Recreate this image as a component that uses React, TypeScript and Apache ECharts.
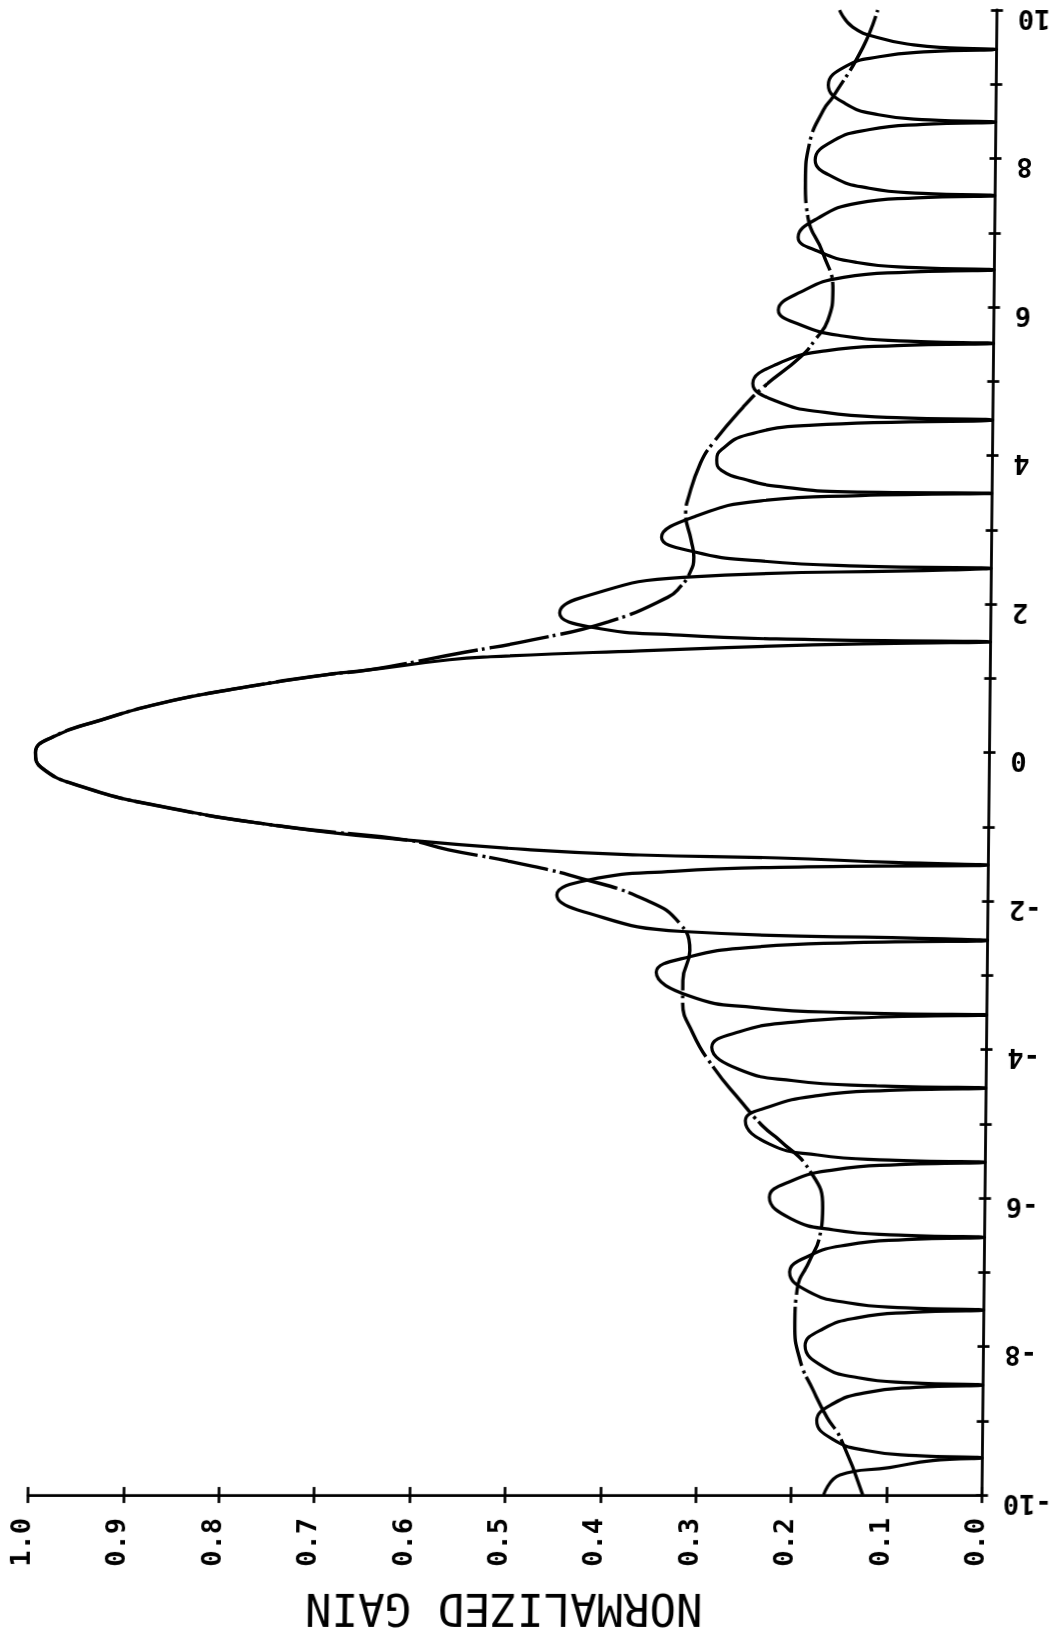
import React, { useEffect, useRef } from "react";
import * as echarts from "echarts";

// [position, normalized gain] pairs
const solidLowerSidelobes: [number, number][] = [
  [-10, 0.166], [-9.73, 0.149], [-9.63, 0.097], [-9.535, 0.052], [-9.5, 0],
  [-9.47, 0.07], [-9.4, 0.122], [-9.25, 0.157], [-9.0, 0.174], [-8.77, 0.157], [-8.62, 0.122], [-8.55, 0.07], [-8.52, 0],
  [-8.49, 0.075], [-8.42, 0.131], [-8.27, 0.168], [-7.99, 0.187], [-7.76, 0.168], [-7.61, 0.131], [-7.54, 0.075], [-7.51, 0],
  [-7.48, 0.082], [-7.41, 0.143], [-7.26, 0.184], [-7.0, 0.204], [-6.78, 0.184], [-6.63, 0.143], [-6.56, 0.082], [-6.53, 0],
  [-6.5, 0.09], [-6.43, 0.158], [-6.28, 0.203], [-5.99, 0.226], [-5.77, 0.203], [-5.62, 0.158], [-5.55, 0.09], [-5.52, 0],
  [-5.49, 0.101], [-5.42, 0.176], [-5.27, 0.227], [-4.96, 0.252], [-4.77, 0.227], [-4.62, 0.176], [-4.55, 0.101], [-4.52, 0],
  [-4.49, 0.115], [-4.42, 0.202], [-4.27, 0.259], [-3.97, 0.288], [-3.76, 0.259], [-3.63, 0.202], [-3.565, 0.115], [-3.535, 0],
  [-3.505, 0.139], [-3.435, 0.243], [-3.28, 0.312], [-2.96, 0.347], [-2.75, 0.312], [-2.62, 0.243], [-2.56, 0.139], [-2.53, 0],
  [-2.51, 0.045], [-2.41, 0.32], [-2.12, 0.43], [-1.92, 0.452], [-1.72, 0.42], [-1.6, 0.33], [-1.54, 0.19], [-1.515, 0],
];

const solidMainLobe: [number, number][] = [
  [-1.48, 0.1], [-1.42, 0.22], [-1.38, 0.366], [-1.31, 0.48], [-1.18, 0.609], [-1.0, 0.737],
  [-0.73, 0.866], [-0.46, 0.951], [-0.2, 0.994], [0, 1.0], [0.21, 0.982], [0.44, 0.931],
  [0.67, 0.867], [0.88, 0.781], [1.05, 0.695], [1.11, 0.653], [1.25, 0.567], [1.29, 0.524],
  [1.37, 0.367], [1.45, 0.186], [1.47, 0.1], [1.49, 0],
];

const solidUpperSidelobes: [number, number][] = [
  [1.52, 0.187], [1.58, 0.326], [1.69, 0.42], [1.88, 0.452], [2.08, 0.431], [2.36, 0.323], [2.46, 0.043], [2.48, 0],
  [2.51, 0.138], [2.58, 0.242], [2.7, 0.311], [2.9, 0.346], [3.18, 0.311], [3.39, 0.242], [3.46, 0.138], [3.49, 0],
  [3.51, 0.152], [3.58, 0.222], [3.67, 0.257], [3.8, 0.284], [3.94, 0.289], [4.08, 0.284], [4.28, 0.257], [4.41, 0.188], [4.48, 0],
  [4.51, 0.101], [4.58, 0.176], [4.73, 0.227], [4.97, 0.252], [5.23, 0.227], [5.41, 0.176], [5.48, 0.101], [5.51, 0],
  [5.54, 0.09], [5.61, 0.158], [5.76, 0.203], [5.96, 0.226], [6.2, 0.203], [6.4, 0.158], [6.47, 0.09], [6.5, 0],
  [6.53, 0.082], [6.6, 0.144], [6.75, 0.185], [6.94, 0.206], [7.2, 0.185], [7.4, 0.144], [7.47, 0.082], [7.5, 0],
  [7.53, 0.076], [7.6, 0.132], [7.75, 0.17], [7.98, 0.189], [8.24, 0.17], [8.39, 0.132], [8.46, 0.076], [8.49, 0],
  [8.52, 0.07], [8.59, 0.123], [8.74, 0.158], [8.99, 0.176], [9.24, 0.158], [9.37, 0.123], [9.44, 0.07], [9.47, 0],
  [9.49, 0.049], [9.53, 0.087], [9.62, 0.122], [9.77, 0.151], [10, 0.165],
];

const envelopeCurve: [number, number][] = [
  [-10, 0.125], [-9.23, 0.149], [-8.96, 0.163], [-8.59, 0.178], [-8.19, 0.192], [-7.69, 0.198],
  [-7.24, 0.196], [-6.84, 0.183], [-6.53, 0.173], [-6.13, 0.17], [-5.63, 0.184], [-5.22, 0.216],
  [-5.04, 0.233], [-4.68, 0.258], [-4.24, 0.286], [-3.78, 0.308], [-3.34, 0.319], [-3.07, 0.319],
  [-2.67, 0.312], [-2.3, 0.323], [-1.99, 0.358], [-1.69, 0.428], [-1.47, 0.501], [-1.31, 0.566],
  [-1.18, 0.609], [-1.0, 0.737], [-0.73, 0.866], [-0.46, 0.951], [-0.2, 0.994], [0, 1.0],
  [0.21, 0.982], [0.44, 0.931], [0.67, 0.867], [0.88, 0.781], [1.05, 0.695], [1.11, 0.653],
  [1.35, 0.551], [1.52, 0.479], [1.76, 0.401], [2.09, 0.339], [2.23, 0.326], [2.42, 0.316],
  [2.63, 0.312], [2.86, 0.315], [3.23, 0.321], [3.4, 0.319], [3.9, 0.306], [4.17, 0.293],
  [4.65, 0.262], [4.92, 0.241], [5.33, 0.202], [5.56, 0.187], [5.82, 0.174], [6.23, 0.169],
  [6.73, 0.18], [7.21, 0.196], [7.71, 0.199], [8.21, 0.195], [8.65, 0.181], [8.83, 0.171],
  [9.5, 0.14], [10, 0.125],
];

const gainAxisTitle = "NORMALIZED GAIN";

const FONT = "'DejaVu Sans Mono', 'Liberation Mono', monospace";

export default function App() {
  const ref = useRef<HTMLDivElement>(null);

  useEffect(() => {
    if (!ref.current) return;
    const chart = echarts.init(ref.current, undefined, { renderer: "svg" });
    const solid = [...solidLowerSidelobes, ...solidMainLobe, ...solidUpperSidelobes].map(
      ([p, g]) => [g, p]
    );
    const env = envelopeCurve.map(([p, g]) => [g, p]);

    const xCommon = {
      type: "value" as const,
      min: 0,
      max: 1,
      interval: 0.1,
      inverse: true,
      position: "bottom" as const,
      splitLine: { show: false },
    };
    const yCommon = {
      type: "value" as const,
      min: -10,
      max: 10,
      interval: 2,
      position: "right" as const,
      splitLine: { show: false },
    };
    const tickStyle = { color: "#000", width: 2.7 };

    chart.setOption({
      animation: false,
      backgroundColor: "#ffffff",
      grid: { left: 35.5, right: 73.5, top: 10, bottom: 143, containLabel: false },
      xAxis: [
        {
          ...xCommon,
          name: gainAxisTitle,
          nameLocation: "middle",
          nameRotate: 180,
          nameGap: 92,
          nameTextStyle: { fontFamily: FONT, fontSize: 44, color: "#000", fontWeight: "normal" },
          axisLine: { show: true, onZero: false, lineStyle: { color: "#000", width: 2.8 } },
          axisTick: { show: true, inside: false, length: 8, lineStyle: tickStyle },
          axisLabel: {
            show: true,
            rotate: 90,
            margin: 23,
            verticalAlign: "bottom",
            lineHeight: 14,
            fontFamily: FONT,
            fontSize: 27,
            fontWeight: "bold",
            color: "#000",
            formatter: (v: number) => v.toFixed(1),
          },
        },
        {
          ...xCommon,
          axisLine: { show: false, onZero: false },
          axisTick: { show: true, inside: true, length: 8, lineStyle: tickStyle },
          axisLabel: { show: false },
        },
      ],
      yAxis: [
        {
          ...yCommon,
          axisLine: { show: true, onZero: false, lineStyle: { color: "#000", width: 2.8 } },
          axisTick: { show: true, inside: false, length: 6, lineStyle: tickStyle },
          minorTick: { show: true, splitNumber: 2, length: 6, lineStyle: tickStyle },
          minorSplitLine: { show: false },
          axisLabel: {
            show: true,
            rotate: 180,
            margin: 21,
            verticalAlign: "bottom",
            lineHeight: 18,
            fontFamily: FONT,
            fontSize: 27,
            fontWeight: "bold",
            color: "#000",
            formatter: (v: number) => String(v),
          },
        },
        {
          ...yCommon,
          axisLine: { show: false, onZero: false },
          axisTick: { show: true, inside: true, length: 6, lineStyle: tickStyle },
          minorTick: { show: true, splitNumber: 2, length: 6, lineStyle: tickStyle },
          minorSplitLine: { show: false },
          axisLabel: { show: false },
        },
      ],
      series: [
        {
          type: "line",
          name: "gain",
          xAxisIndex: 0,
          yAxisIndex: 0,
          data: solid,
          symbol: "none",
          smooth: 0.5,
          lineStyle: { color: "#000", width: 3.2 },
          silent: true,
        },
        {
          type: "line",
          name: "envelope",
          xAxisIndex: 0,
          yAxisIndex: 0,
          data: env,
          symbol: "none",
          smooth: 0.5,
          lineStyle: { color: "#000", width: 3.4, type: [60, 4, 3, 5] },
          silent: true,
        },
      ],
    });
    return () => chart.dispose();
  }, []);

  return (
    <div
      ref={ref}
      style={{
        position: "fixed",
        left: 0,
        top: 0,
        width: 1063,
        height: 1638,
        background: "#fff",
        transform: "skewX(-0.579deg)",
        transformOrigin: "989.5px 752px",
      }}
    />
  );
}
